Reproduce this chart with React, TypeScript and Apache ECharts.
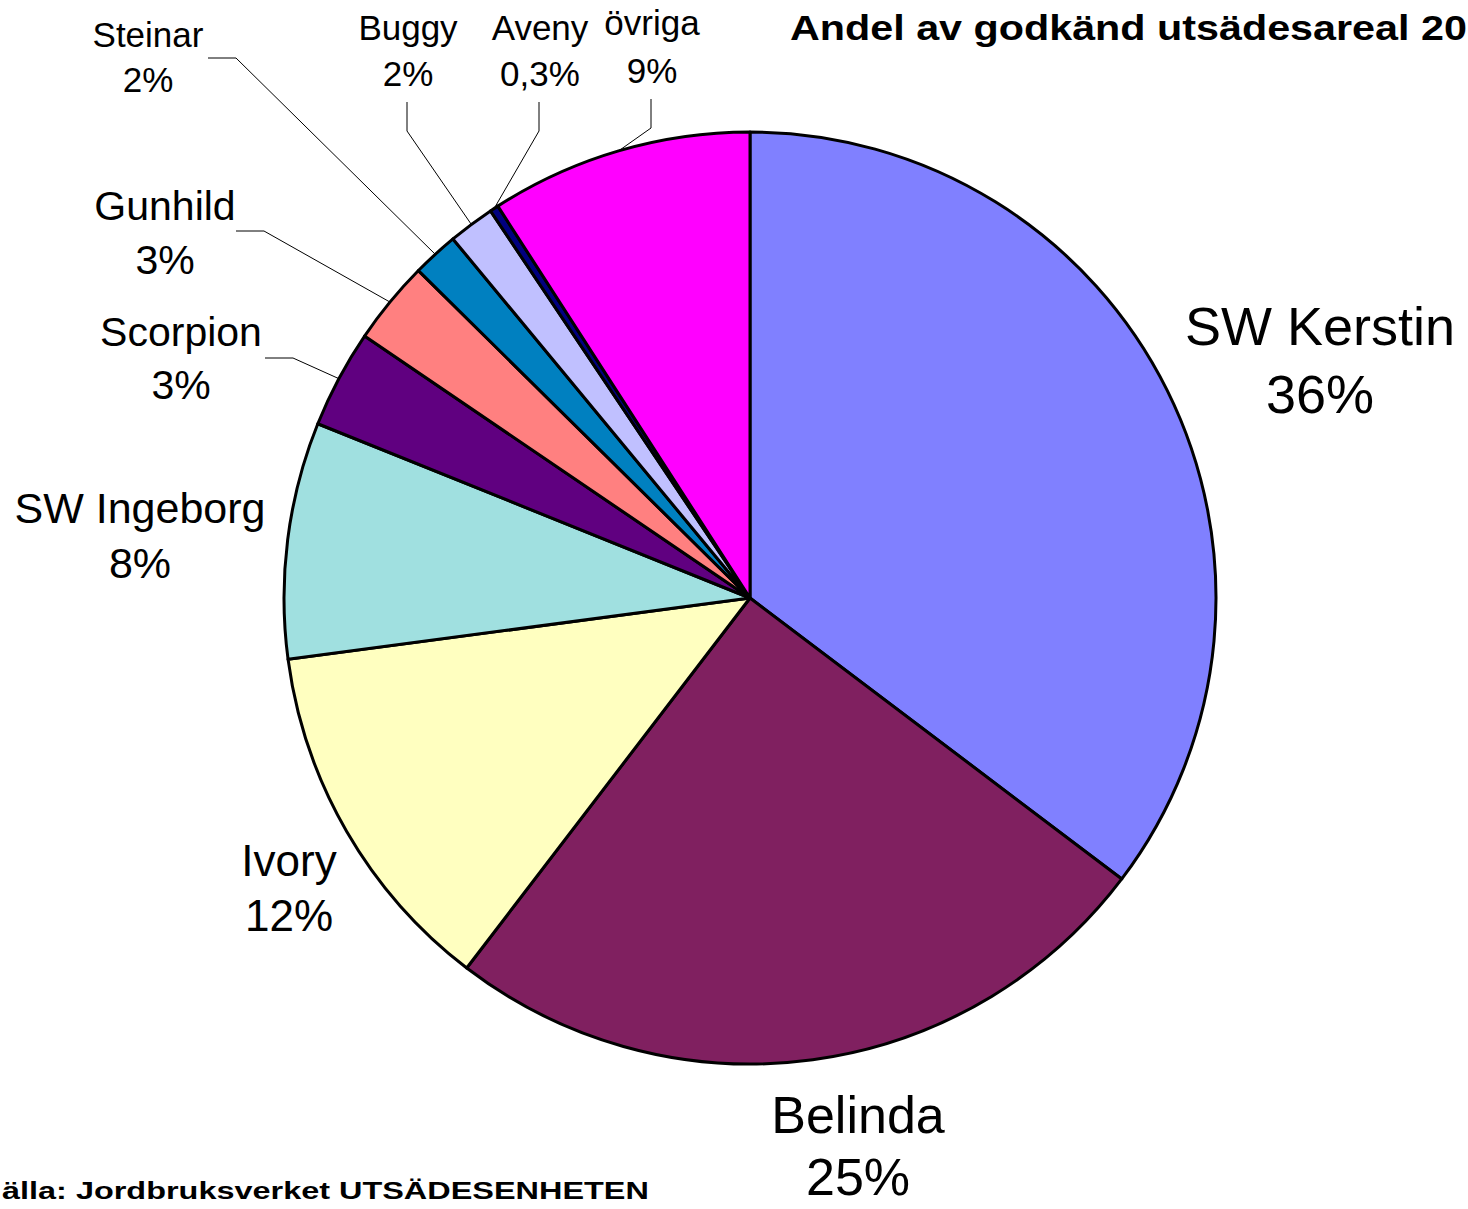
import React, { useEffect, useRef } from "react";
import * as echarts from "echarts";

const names = ["SW Kerstin", "Belinda", "Ivory", "SW Ingeborg", "Scorpion", "Gunhild", "Steinar", "Buggy", "Aveny", "övriga"];
const values = [35.3, 25.1, 12.5, 8.2, 3.4, 2.9, 1.6, 1.6, 0.3, 9.1];
const pctLabels = ["36%", "25%", "12%", "8%", "3%", "3%", "2%", "2%", "0,3%", "9%"];
const colors = ["#8080FF", "#802060", "#FFFFC0", "#A0E0E0", "#600080", "#FF8080", "#0080C0", "#C0C0FF", "#000080", "#FF00FF"];

const titleText = "Andel av godkänd utsädesareal 20";
const sourceText = "älla: Jordbruksverket UTSÄDESENHETEN";

// label placement (layout/style only)
type LabelPos = { x: number; y: number; fs: number; lh: number; line?: number[][] };
const labelPos: LabelPos[] = [
  { x: 1320, y: 360, fs: 54, lh: 68 },
  { x: 858, y: 1146, fs: 52, lh: 62 },
  { x: 289, y: 888, fs: 44, lh: 55 },
  { x: 140, y: 535, fs: 43, lh: 55 },
  { x: 181, y: 358, fs: 41, lh: 53, line: [[293, 358], [265, 358]] },
  { x: 165, y: 233, fs: 41, lh: 54, line: [[264, 231], [236, 231]] },
  { x: 148, y: 57, fs: 35, lh: 45, line: [[236, 58], [208, 58]] },
  { x: 408, y: 50, fs: 35, lh: 46, line: [[407, 131], [407, 102]] },
  { x: 540, y: 50, fs: 35, lh: 46, line: [[539, 131], [539, 102]] },
  { x: 652, y: 46, fs: 35, lh: 48, line: [[651, 128], [651, 99]] },
];

const CX = 750;
const CY = 598;
const R = 466;
const FONT = "'Liberation Sans', Arial, sans-serif";

export default function App() {
  const ref = useRef<HTMLDivElement>(null);

  useEffect(() => {
    document.body.style.margin = "0";
    if (!ref.current) return;
    const chart = echarts.init(ref.current, undefined, { renderer: "svg" });

    const total = values.reduce((a, b) => a + b, 0);
    const midPoint = (i: number) => {
      let cum = 0;
      for (let k = 0; k < i; k++) cum += values[k];
      const frac = (cum + values[i] / 2) / total;
      const ang = frac * Math.PI * 2;
      return [CX + R * Math.sin(ang), CY - R * Math.cos(ang)];
    };

    const data = names.map((n, i) => ({
      name: n,
      value: values[i],
      itemStyle: { color: colors[i] },
      label: { fontSize: labelPos[i].fs, lineHeight: labelPos[i].lh },
      labelLine: { show: !!labelPos[i].line },
    }));

    chart.setOption({
      animation: false,
      backgroundColor: "#ffffff",
      graphic: [
        {
          type: "text",
          x: 790,
          y: 28,
          scaleX: 1.18,
          style: {
            text: titleText,
            font: `bold 35px ${FONT}`,
            fill: "#000",
            textAlign: "left",
            textVerticalAlign: "middle",
          },
        },
        {
          type: "text",
          x: 2,
          y: 1191,
          scaleX: 1.41,
          style: {
            text: sourceText,
            font: `bold 23px ${FONT}`,
            fill: "#000",
            textAlign: "left",
            textVerticalAlign: "middle",
          },
        },
      ],
      series: [
        {
          type: "pie",
          center: [CX, CY],
          radius: R,
          startAngle: 90,
          clockwise: true,
          avoidLabelOverlap: false,
          itemStyle: { borderColor: "#000", borderWidth: 3 },
          label: {
            show: true,
            position: "outside",
            color: "#000",
            fontFamily: FONT,
            align: "center",
            formatter: (p: any) => `${p.name}\n${pctLabels[p.dataIndex]}`,
          },
          labelLine: {
            show: true,
            length: 20,
            length2: 20,
            lineStyle: { color: "#000", width: 1 },
          },
          labelLayout: (params: any) => {
            const lp = labelPos[params.dataIndex];
            const res: any = { x: lp.x, y: lp.y, align: "center", verticalAlign: "middle" };
            if (lp.line) {
              const start =
                params.labelLinePoints && params.labelLinePoints[0]
                  ? params.labelLinePoints[0]
                  : midPoint(params.dataIndex);
              res.labelLinePoints = [start, lp.line[0], lp.line[1]];
            }
            return res;
          },
          emphasis: { disabled: true },
          data,
        },
      ],
    });

    return () => chart.dispose();
  }, []);

  return <div ref={ref} style={{ width: 1468, height: 1209 }} />;
}
